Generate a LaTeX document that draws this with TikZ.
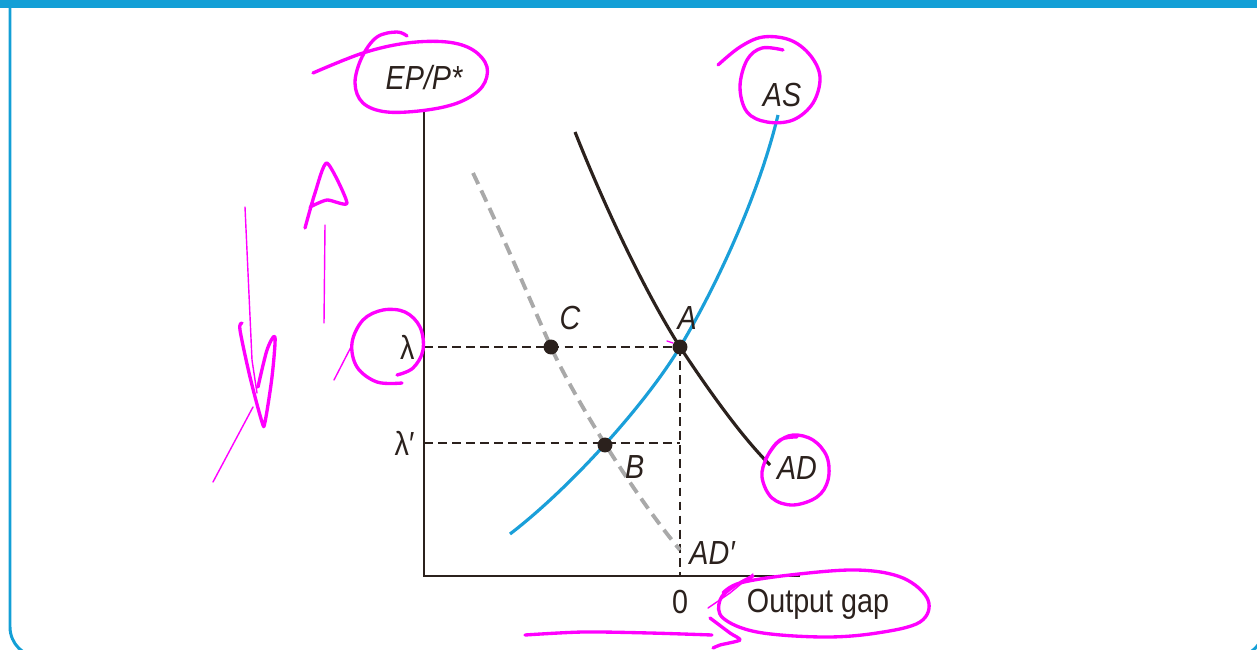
\documentclass[tikz,border=0pt]{standalone}
\usepackage{fontspec}
\setmainfont{Liberation Sans}[FakeStretch=0.86]
\usetikzlibrary{positioning}
\definecolor{inkbrown}{HTML}{2B211D}
\definecolor{asblue}{HTML}{1A9FD9}
\definecolor{adgray}{HTML}{A9A9A9}
\definecolor{frameblue}{HTML}{139FD6}
\definecolor{penpink}{HTML}{FF00FF}
\tikzstyle{axis} = [draw=inkbrown, line width=1.1pt]
\tikzstyle{guide} = [draw=inkbrown, line width=0.9pt, dash pattern=on 5pt off 3pt]
\tikzstyle{curveAS} = [draw=asblue, line width=1.8pt]
\tikzstyle{curveAD} = [draw=inkbrown, line width=1.8pt]
\tikzstyle{curveADp} = [draw=adgray, line width=2.2pt, dash pattern=on 7pt off 4pt]
\tikzstyle{dot} = [circle, fill=inkbrown, inner sep=0pt, minimum size=8.5pt]
\tikzstyle{lbl} = [text=inkbrown, font=\fontsize{19}{22}\selectfont\itshape, inner sep=1pt]
\tikzstyle{ticklbl} = [text=inkbrown, font=\fontsize{19}{22}\selectfont, inner sep=1pt]
\tikzstyle{pen} = [draw=penpink, line width=1.9pt, line cap=round, line join=round]
\tikzstyle{thinpen} = [draw=penpink, line width=0.8pt, line cap=round, line join=round]

\begin{document}
\begin{tikzpicture}[x=0.02cm, y=-0.02cm]
    \useasboundingbox (0,0) rectangle (1257,649);

    % frame
    \fill[frameblue] (0,0) rectangle (1257,8);
    \draw[frameblue, line width=1.7pt, rounded corners=0.6cm] (10,5) -- (10,657) -- (1264,657) -- (1264,5);

    % axes
    \coordinate (orig) at (424,576);
    \coordinate (ytop) at (424,112);
    \coordinate (xend) at (800,576);
    \draw[axis] (ytop) -- (orig) -- (xend);

    % points
    \coordinate (ptA) at (680,347);
    \coordinate (ptB) at (605,445);
    \coordinate (ptC) at (551,347);
    \coordinate (ylam) at (424,347);
    \coordinate (ylamp) at (424,443);
    \coordinate (xlamp) at (680,443);
    \coordinate (xzero) at (680,576);

    % guides
    \draw[guide] (ylam) -- (ptA);
    \draw[guide] (ylamp) -- (xlamp);
    \draw[guide] (ptA) -- (xzero);

    % curves
    \draw[curveADp] (473,173) .. controls (505,240) and (530,300) .. (ptC)
        .. controls (570,390) and (630,490) .. (680,550);
    \draw[curveAS] (510,534) .. controls (570,488) and (645,405) .. (ptA)
        .. controls (720,280) and (760,190) .. (778,115);
    \draw[curveAD] (575,132) .. controls (610,220) and (650,300) .. (ptA)
        .. controls (715,400) and (745,440) .. (770,465);

    \node[dot] (dotA) at (ptA) {};
    \node[dot] (dotB) at (ptB) {};
    \node[dot] (dotC) at (ptC) {};

    % labels
    \node[lbl] (lblEP) at (424,78) {EP/P*};
    \node[lbl] (lblAS) at (782,95) {AS};
    \node[lbl] (lblAD) at (797,468) {AD};
    \node[lbl] (lblADp) at (712,553) {AD′};
    \node[lbl, above right=0.2cm and -0.2cm of dotA] (lblA) {A};
    \node[lbl, above right=0.2cm and 0.02cm of dotC] (lblC) {C};
    \node[lbl, below right=0.05cm and 0.25cm of dotB] (lblB) {B};
    \node[ticklbl, left=0.15cm of ylam] (lblLam) {λ};
    \node[ticklbl, left=0.15cm of ylamp] (lblLamp) {λ′};
    \node[ticklbl, below=0.25cm of xzero] (lblZero) {0};
    \node[ticklbl] (lblGap) at (818,604) {Output gap};

    % pink pen marks
    \draw[pen] plot[smooth, tension=0.6] coordinates {(313,73) (363,53) (407,43) (447,42) (473,50) (487,67) (482,87) (460,102) (427,110) (387,112) (363,103) (355,83) (362,57) (377,37) (397,32) (407,36)};
    \draw[pen] plot[smooth, tension=0.6] coordinates {(718,65) (740,47) (763,37) (790,40) (810,55) (820,77) (813,103) (793,120) (767,122) (747,112) (740,87) (747,60) (762,48) (783,50)};
    \draw[pen] plot[smooth, tension=0.6] coordinates {(397,375) (413,368) (423,350) (420,327) (405,312) (383,310) (363,320) (352,343) (357,367) (377,382) (402,383)};
    \draw[thinpen] (334,380) -- (352,345);
    \draw[pen] plot[smooth, tension=0.6] coordinates {(765,460) (777,443) (793,435) (813,440) (827,457) (828,480) (817,497) (793,505) (772,498) (762,477) (767,457) (780,440) (797,437)};
    \draw[thinpen] (708,608) -- (730,593) -- (753,574);
    \draw[pen] plot[smooth, tension=0.6] coordinates {(723,593) (740,583) (790,575) (857,570) (903,578) (928,600) (920,622) (877,633) (823,637) (757,632) (723,618) (720,600) (733,587) (753,576)};
    \draw[pen] plot[smooth, tension=0.5] coordinates {(525,635) (583,632) (650,633) (712,635)};
    \draw[pen] plot[smooth, tension=0.4] coordinates {(710,618) (730,633) (740,640) (720,645) (713,648)};
    \draw[thinpen] (245,207) -- (252,360) -- (257,393);
    \draw[pen] plot[smooth, tension=0.5] coordinates {(242,323) (240,330) (250,377) (262,422) (265,422) (272,377) (275,337) (267,350) (258,387)};
    \draw[thinpen] (213,482) -- (253,407);
    \draw[thinpen] (325,225) -- (324,323);
    \draw[pen] plot[smooth, tension=0.4] coordinates {(305,228) (315,193) (327,163) (347,203) (327,200) (310,207)};
    \draw[thinpen] (667,341) -- (673,343);
\end{tikzpicture}
\end{document}
